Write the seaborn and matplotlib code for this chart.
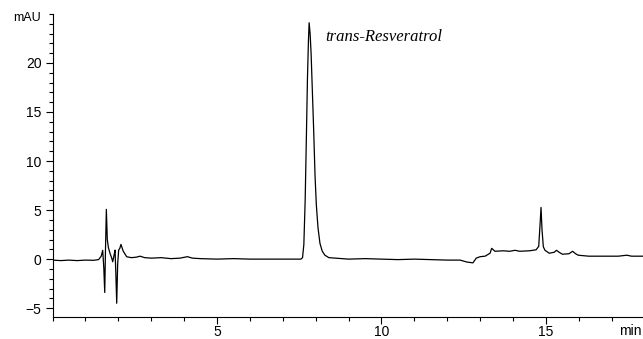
import matplotlib
matplotlib.use("Agg")
import matplotlib.pyplot as plt
import seaborn as sns
import pandas as pd
from matplotlib.ticker import MultipleLocator

# Retention time (min) and detector signal (mAU)
time_min = [
    0.00, 0.25, 0.50, 0.75, 1.00, 1.25, 1.40, 1.48, 1.525, 1.56, 1.587, 1.61, 1.636,
    1.665, 1.697, 1.748, 1.80, 1.829, 1.87, 1.90, 1.925, 1.951, 1.98, 2.01, 2.045,
    2.08, 2.15, 2.255, 2.40, 2.55, 2.66, 2.80, 3.00, 3.30, 3.60, 3.875, 4.10, 4.25,
    4.50, 5.00, 5.50, 6.00, 6.50, 7.00, 7.40, 7.55, 7.60, 7.64, 7.68, 7.72, 7.75,
    7.78, 7.80, 7.83, 7.86, 7.90, 7.94, 7.98, 8.02, 8.07, 8.13, 8.20, 8.28, 8.40,
    8.60, 9.00, 9.50, 10.00, 10.50, 11.00, 11.50, 12.00, 12.39, 12.60, 12.78, 12.88,
    13.00, 13.15, 13.30, 13.35, 13.45, 13.70, 13.90, 14.06, 14.20, 14.50, 14.70,
    14.78, 14.82, 14.85, 14.88, 14.92, 14.97, 15.10, 15.25, 15.32, 15.40, 15.50,
    15.70, 15.81, 15.90, 15.98, 16.30, 16.80, 17.20, 17.46, 17.60, 17.95,
]
signal_mau = [
    -0.10, -0.15, -0.10, -0.15, -0.10, -0.12, -0.05, 0.30, 0.90, -1.00, -3.40, 1.00, 5.07,
    2.00, 1.20, 0.58, 0.10, -0.27, 0.40, 0.92, -1.50, -4.50, -0.50, 0.92, 1.10,
    1.50, 0.80, 0.24, 0.15, 0.20, 0.30, 0.15, 0.10, 0.15, 0.05, 0.10, 0.25, 0.10,
    0.05, 0.00, 0.05, 0.00, 0.00, 0.00, 0.00, 0.00, 0.15, 1.50, 6.00, 13.00, 18.50,
    22.30, 24.10, 23.00, 21.00, 17.00, 13.00, 8.50, 5.50, 3.20, 1.60, 0.80, 0.40, 0.15,
    0.10, 0.00, 0.05, 0.00, -0.05, 0.00, -0.05, -0.10, -0.10, -0.30, -0.38, 0.10,
    0.25, 0.30, 0.60, 1.10, 0.80, 0.85, 0.80, 0.90, 0.80, 0.85, 0.95,
    1.30, 3.50, 5.27, 3.00, 1.26, 0.90, 0.60, 0.70, 0.90, 0.70, 0.50,
    0.55, 0.80, 0.55, 0.40, 0.30, 0.30, 0.30, 0.40, 0.30, 0.30,
]

peak_label = "trans-Resveratrol"
x_ticks = [5, 10, 15]
y_ticks = [-5, 0, 5, 10, 15, 20]

df = pd.DataFrame({"time": time_min, "signal": signal_mau})

sns.set_theme(style="ticks")
plt.rcParams["font.family"] = ["Liberation Sans", "DejaVu Sans"]

fig = plt.figure(figsize=(6.43, 3.39), dpi=100)
ax = fig.add_axes([0.0817, 0.0649, 0.9183, 0.8941])

sns.lineplot(data=df, x="time", y="signal", ax=ax, color="black",
             linewidth=0.9, estimator=None, sort=False)

ax.set_xlim(0, 17.95)
ax.set_ylim(-5.9, 25.0)
ax.set_xticks(x_ticks)
ax.set_yticks(y_ticks)
ax.xaxis.set_minor_locator(MultipleLocator(1))
ax.yaxis.set_minor_locator(MultipleLocator(1))
ax.tick_params(axis="both", which="major", length=5, width=0.8, labelsize=10,
               color="black", labelcolor="black")
ax.tick_params(axis="x", which="major", pad=0.5)
ax.tick_params(axis="y", which="major", pad=3)
ax.tick_params(axis="both", which="minor", length=3, width=0.8, color="black")
ax.set_xlabel("")
ax.set_ylabel("")
sns.despine(ax=ax)
for s in ("left", "bottom"):
    ax.spines[s].set_linewidth(0.8)
    ax.spines[s].set_color("black")

ax.text(8.28, 22.6, peak_label, fontstyle="italic", family="Liberation Serif",
        fontsize=12, va="center", ha="left", color="black")
fig.text(0.063, 0.948, "mAU", fontsize=9, ha="right", va="center", color="black")
fig.text(0.998, 0.024, "min", fontsize=10, ha="right", va="center", color="black")

fig.savefig("out.png", dpi=100)
